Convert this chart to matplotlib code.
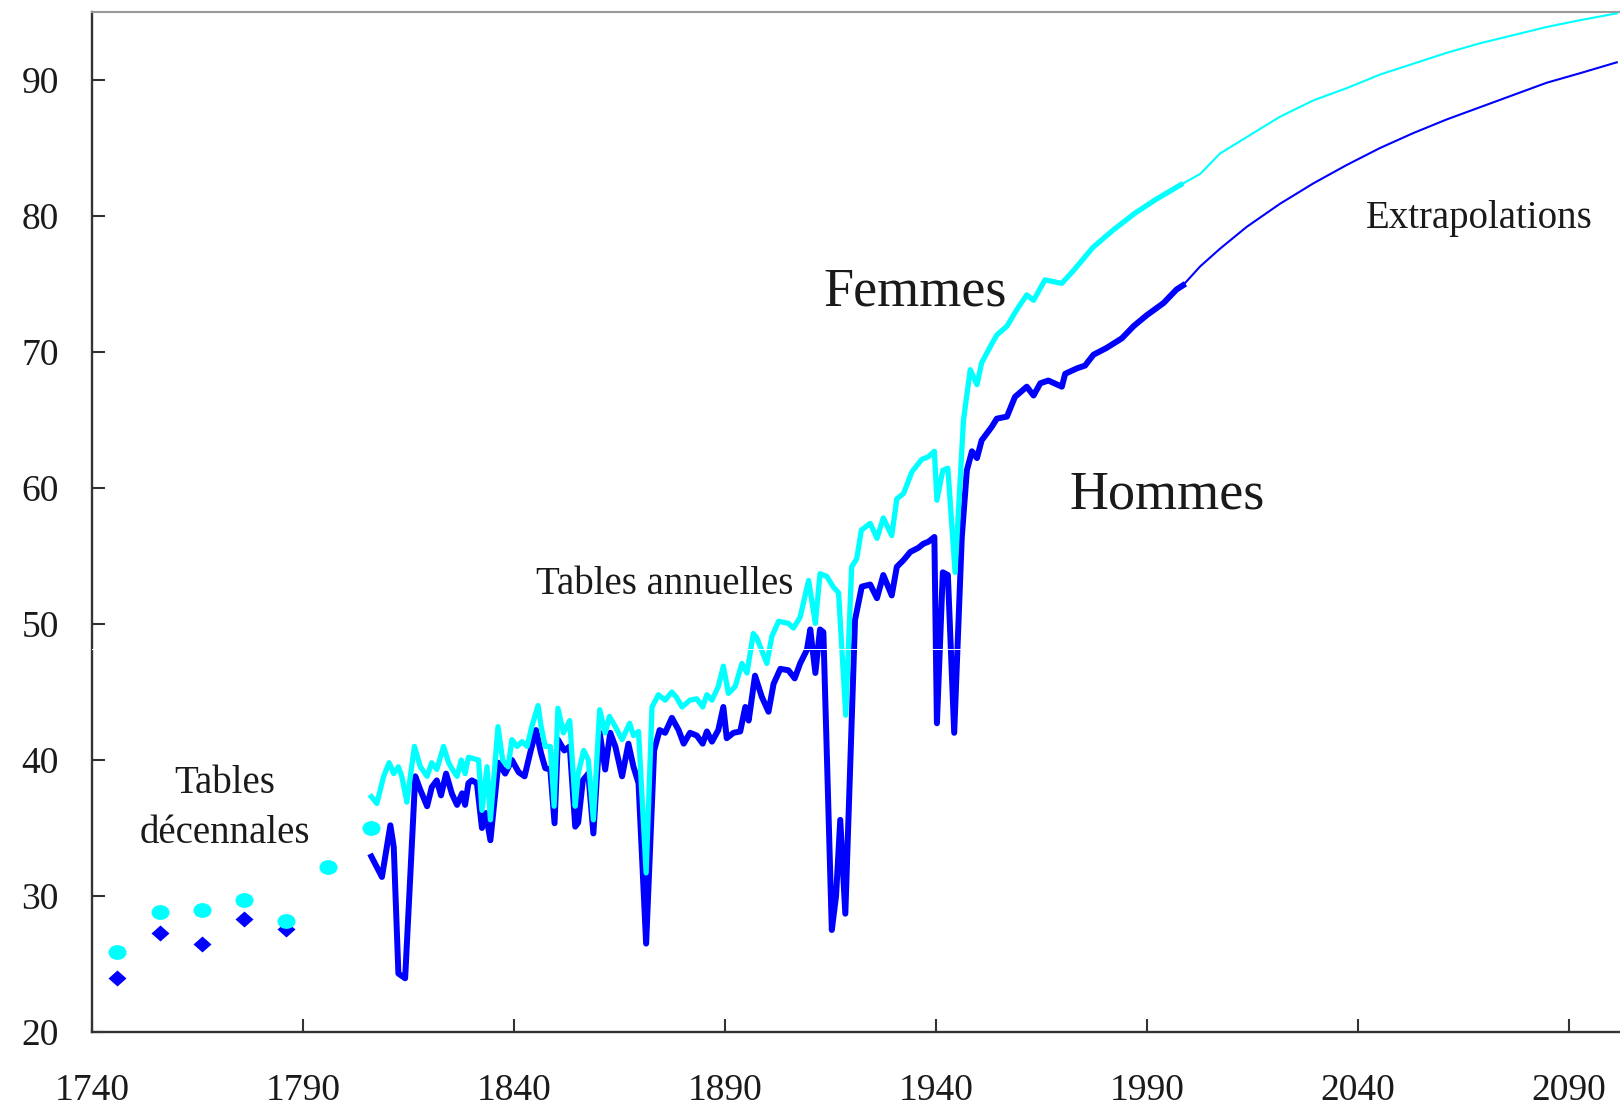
import matplotlib
matplotlib.use('Agg')
import matplotlib.pyplot as plt
from matplotlib.markers import MarkerStyle
from matplotlib.transforms import Affine2D

plt.rcParams['font.family'] = ['Liberation Serif', 'DejaVu Serif']

# ---------------- data ----------------
# decennial tables
years_dec_f = [1746, 1756, 1766, 1776, 1786, 1796, 1806]
femmes_dec = [25.9, 28.85, 29.0, 29.7, 28.15, 32.15, 35.0]
years_dec_h = [1746, 1756, 1766, 1776, 1786]
hommes_dec = [23.95, 27.25, 26.5, 28.3, 27.6]

# annual tables - men
years_h = [1806.2, 1808.7, 1810.7, 1811.5, 1812.6, 1814.2, 1816.6, 1817.8, 1819.4, 1820.5,
           1821.7, 1822.7, 1823.9, 1825.3, 1826.5, 1827.7, 1828.4, 1829.2, 1830.0, 1831.2,
           1832.4, 1833.3, 1834.4, 1836.3, 1837.9, 1839.5, 1841.1, 1842.5, 1843.8, 1845.2,
           1846.4, 1847.4, 1848.6, 1849.6, 1850.4, 1851.9, 1853.2, 1854.5, 1855.2, 1856.3,
           1857.6, 1858.8, 1860.3, 1861.6, 1862.8, 1864.0, 1865.6, 1867.1, 1868.3, 1869.5,
           1871.3, 1873.2, 1874.5, 1875.8, 1877.4, 1879.0, 1880.2, 1881.7, 1883.3, 1884.7,
           1885.7, 1886.9, 1888.4, 1889.6, 1890.4, 1892.0, 1893.6, 1894.8, 1895.6, 1897.1,
           1898.7, 1900.3, 1901.5, 1903.1, 1905.0, 1906.5, 1907.8, 1909.4, 1910.2, 1911.4,
           1912.5, 1913.3, 1915.3, 1916.3, 1917.3, 1918.5, 1920.8, 1922.4, 1924.4, 1926.0,
           1927.5, 1929.5, 1930.7, 1932.3, 1933.9, 1935.8, 1937.0, 1938.2, 1939.6, 1940.2,
           1941.6, 1942.8, 1944.3, 1946.1, 1947.3, 1948.5, 1949.7, 1950.8, 1953.2, 1954.4,
           1956.8, 1958.7, 1961.5, 1963.1, 1964.7, 1966.6, 1969.8, 1970.6, 1973.4, 1975.3,
           1977.3, 1980.4, 1984.0, 1986.8, 1989.9, 1993.9, 1997.0, 1998.5]
hommes = [32.9, 31.4, 35.2, 33.6, 24.3, 23.95, 38.8, 37.8, 36.6, 38.0,
          38.5, 37.4, 39.0, 37.5, 36.7, 37.55, 36.7, 38.3, 38.5, 38.3,
          35.0, 36.1, 34.1, 39.8, 39.0, 40.0, 39.1, 38.8, 40.5, 42.2,
          40.5, 39.4, 39.3, 35.35, 41.5, 40.7, 41.0, 35.1, 35.4, 38.5,
          39.0, 34.6, 42.0, 39.3, 42.0, 41.0, 38.8, 41.2, 39.5, 38.3,
          26.5, 40.7, 42.2, 42.0, 43.1, 42.2, 41.2, 42.0, 41.8, 41.2,
          42.1, 41.35, 42.2, 43.9, 41.6, 42.0, 42.1, 43.9, 42.9, 46.2,
          44.65, 43.55, 45.6, 46.7, 46.6, 46.0, 47.1, 48.1, 49.6, 46.4,
          49.6, 49.4, 27.5, 30.0, 35.6, 28.7, 50.3, 52.75, 52.9, 51.9,
          53.6, 52.1, 54.2, 54.7, 55.3, 55.6, 55.9, 56.05, 56.4, 42.7,
          53.8, 53.6, 42.0, 56.4, 61.3, 62.7, 62.2, 63.5, 64.5, 65.1,
          65.25, 66.7, 67.45, 66.8, 67.7, 67.9, 67.45, 68.4, 68.8, 69.0,
          69.8, 70.3, 71.0, 71.9, 72.7, 73.6, 74.6, 74.9]

# annual tables - women
years_f = [1806.2, 1807.5, 1809.1, 1810.4, 1811.5, 1812.6, 1813.4, 1814.6, 1816.4, 1817.8,
           1819.4, 1820.5, 1821.7, 1823.3, 1824.5, 1825.4, 1826.5, 1827.5, 1828.4, 1829.2,
           1830.4, 1831.6, 1832.4, 1833.6, 1834.4, 1836.2, 1837.3, 1838.6, 1839.5, 1840.7,
           1841.9, 1843.1, 1844.2, 1845.7, 1846.4, 1847.4, 1848.6, 1849.5, 1850.4, 1851.7,
           1853.2, 1854.5, 1855.2, 1856.5, 1857.6, 1858.8, 1860.3, 1861.6, 1862.6, 1864.0,
           1865.6, 1867.4, 1868.3, 1869.5, 1871.3, 1872.7, 1874.2, 1875.8, 1877.4, 1878.5,
           1879.8, 1881.7, 1883.3, 1884.7, 1885.7, 1886.9, 1888.4, 1889.6, 1890.8, 1892.4,
           1894.0, 1895.2, 1896.7, 1897.5, 1899.9, 1901.1, 1902.7, 1905.0, 1906.2, 1907.8,
           1908.6, 1909.8, 1911.4, 1912.5, 1914.1, 1915.7, 1916.9, 1918.6, 1920.0, 1921.2,
           1922.3, 1924.4, 1926.0, 1927.5, 1929.5, 1930.7, 1932.3, 1934.3, 1936.6, 1938.2,
           1939.6, 1940.2, 1941.6, 1942.8, 1944.5, 1946.5, 1948.1, 1949.7, 1950.8, 1953.2,
           1954.4, 1956.8, 1959.1, 1961.5, 1963.1, 1965.8, 1969.8, 1972.6, 1977.2, 1982.1,
           1987.1, 1992.0, 1998.0]
femmes = [37.3, 36.8, 38.8, 39.8, 39.0, 39.5, 38.8, 36.9, 41.0, 39.5,
          38.8, 39.8, 39.3, 41.0, 39.8, 39.3, 38.8, 40.0, 39.0, 40.2,
          40.1, 40.0, 36.3, 39.5, 35.6, 42.45, 40.0, 39.5, 41.5, 41.0,
          41.35, 41.0, 42.45, 44.0, 42.5, 41.0, 41.0, 36.6, 43.8, 42.0,
          42.9, 36.6, 39.0, 40.7, 40.0, 35.6, 43.7, 42.0, 43.2, 42.45,
          41.5, 42.7, 41.8, 42.1, 31.7, 43.9, 44.8, 44.4, 45.0, 44.6,
          43.9, 44.4, 44.5, 43.9, 44.8, 44.4, 45.4, 46.9, 44.9, 45.4,
          47.1, 46.4, 49.3, 49.0, 47.1, 49.1, 50.2, 50.05, 49.7, 50.5,
          51.6, 53.2, 50.05, 53.7, 53.5, 52.7, 52.3, 43.3, 54.2, 54.8,
          56.9, 57.4, 56.3, 57.8, 56.5, 59.2, 59.6, 61.2, 62.1, 62.3,
          62.7, 59.1, 61.3, 61.45, 53.8, 65.0, 68.7, 67.6, 69.2, 70.6,
          71.25, 71.9, 73.1, 74.2, 73.8, 75.3, 75.05, 76.0, 77.7, 79.0,
          80.2, 81.2, 82.3]

# extrapolations
years_ext_h = [1998.5, 2002.6, 2007.3, 2013.6, 2021.5, 2029.4, 2037.3, 2045.2, 2053.1,
               2061.0, 2068.9, 2076.8, 2084.7, 2092.6, 2101.3]
hommes_ext = [74.9, 76.3, 77.6, 79.2, 80.9, 82.4, 83.75, 85.0, 86.1,
              87.1, 88.0, 88.9, 89.8, 90.5, 91.3]
years_ext_f = [1998.0, 2002.6, 2007.3, 2013.6, 2021.5, 2029.4, 2037.3, 2045.2, 2053.1,
               2061.0, 2068.9, 2076.8, 2084.7, 2092.6, 2101.3]
femmes_ext = [82.3, 83.1, 84.6, 85.8, 87.3, 88.5, 89.4, 90.4, 91.2,
              92.0, 92.7, 93.3, 93.9, 94.4, 94.9]

x_ticks = [1740, 1790, 1840, 1890, 1940, 1990, 2040, 2090]
y_ticks = [20, 30, 40, 50, 60, 70, 80, 90]

BLUE = '#0000ff'
CYAN = '#00ffff'
TXT = '#1a1a1a'

# ---------------- figure ----------------
fig = plt.figure(figsize=(16.2, 11.05), dpi=100)
ax = fig.add_axes([92 / 1620, 73 / 1105, 1528 / 1620, 1020 / 1105])
ax.set_xlim(1740, 2102.06)
ax.set_ylim(20, 95)

ax.plot(years_h, hommes, color=BLUE, lw=4.3, solid_joinstyle='round', zorder=3)
ax.plot(years_f, femmes, color=CYAN, lw=3.8, solid_joinstyle='round', zorder=4)
ax.plot(years_ext_h, hommes_ext, color=BLUE, lw=1.5, zorder=3)
ax.plot(years_ext_f, femmes_ext, color=CYAN, lw=1.5, zorder=4)

ell = MarkerStyle('o', transform=Affine2D().scale(1.0, 0.82))
dia = MarkerStyle('D', transform=Affine2D().scale(1.0, 0.85))
ax.plot(years_dec_h, hommes_dec, ls='none', marker=dia, ms=9, color=BLUE,
        mec='none', zorder=5)
ax.plot(years_dec_f, femmes_dec, ls='none', marker=ell, ms=13, color=CYAN,
        mec='none', zorder=6)

# thin white artefact line crossing the plot
ax.axhline(48.16, color='white', lw=0.7, zorder=7)

ax.set_xticks(x_ticks)
ax.set_yticks(y_ticks)
ax.tick_params(direction='in', length=9.2, width=1.5, color='#333333',
               labelcolor=TXT, labelsize=27)
ax.tick_params(axis='y', pad=24)
ax.tick_params(axis='x', pad=30)

for s in ('left', 'bottom'):
    ax.spines[s].set_color('#333333')
    ax.spines[s].set_linewidth(1.7)
ax.spines['top'].set_color('#999999')
ax.spines['top'].set_linewidth(1.5)
ax.spines['right'].set_visible(False)

# annotations
ax.text(1935.05, 73.4, 'Femmes', fontsize=39, ha='center', va='baseline', color=TXT)
ax.text(1994.7, 58.5, 'Hommes', fontsize=39, ha='center', va='baseline', color=TXT)
ax.text(1875.8, 52.2, 'Tables annuelles', fontsize=28, ha='center', va='baseline', color=TXT)
ax.text(1771.4, 37.57, 'Tables', fontsize=28, ha='center', va='baseline', color=TXT)
ax.text(1771.4, 33.92, 'décennales', fontsize=28, ha='center', va='baseline', color=TXT)
ax.text(2068.7, 79.1, 'Extrapolations', fontsize=28, ha='center', va='baseline', color=TXT)

fig.savefig('out.png', dpi=100)
